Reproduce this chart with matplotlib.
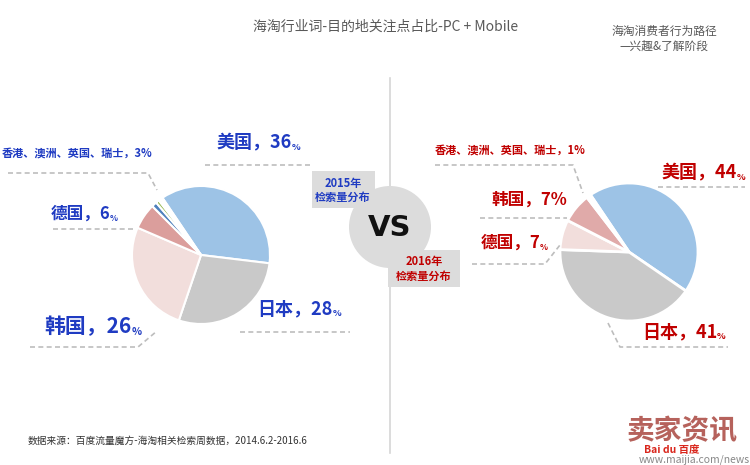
"""Pie comparison of 海淘 destination share, 2015 vs 2016."""

import matplotlib
matplotlib.use('Agg')
import matplotlib.pyplot as plt
from matplotlib.patches import Circle, Rectangle

plt.rcParams['font.family'] = ['Noto Sans CJK SC', 'DejaVu Sans']

W, H = 750, 465

# 2015 share, clockwise from the top
regions_2015 = ['美国', '日本', '韩国', '德国', '香港', '澳洲', '英国', '瑞士']
share_2015 = [36, 28, 26, 6, 1.2, 0.8, 0.5, 0.5]
colors_2015 = ['#9DC3E6', '#C9C9C9', '#F2DEDC', '#DB9E9C',
               '#4F81BD', '#9BBB59', '#F4F1CC', '#FFFFFF']

# 2016 share, clockwise from the top
regions_2016 = ['美国', '日本', '德国', '韩国', '香港、澳洲、英国、瑞士']
share_2016 = [44, 41, 7, 7, 1]
colors_2016 = ['#9DC3E6', '#C9C9C9', '#F2DEDC', '#E0AAA9', '#FFFFFF']

BLUE = '#1F3BC2'
RED = '#C00000'
DASH = '#BDBDBD'


def Y(y):
    """Convert a top-down pixel row to axes data y."""
    return H - y


def pct_label(ax, name, value, x, y, size, color, small_pct=True):
    main = f'{name}，{value:g}'
    if small_pct:
        ax.text(x, Y(y), main, ha='right', va='center', fontsize=size,
                color=color, fontweight='bold')
        ax.text(x, Y(y) - size * 0.35, '%', ha='left', va='center',
                fontsize=size * 0.5, color=color, fontweight='bold')
    else:
        ax.text(x, Y(y), main + '%', ha='right', va='center', fontsize=size,
                color=color, fontweight='bold')


def leader(ax, pts):
    xs = [p[0] for p in pts]
    ys = [Y(p[1]) for p in pts]
    ax.plot(xs, ys, color=DASH, lw=1.2, linestyle=(0, (3, 2)))


fig = plt.figure(figsize=(W / 100, H / 100), dpi=100)
ax = fig.add_axes([0, 0, 1, 1])

# divider and VS badge
ax.plot([390, 390], [Y(78), Y(453)], color='#D6D6D6', lw=1.2, zorder=1)
ax.add_patch(Rectangle((312, Y(208)), 63, 37, facecolor='#DCDCDC', edgecolor='none', zorder=2))
ax.add_patch(Rectangle((388, Y(287)), 72, 37, facecolor='#DCDCDC', edgecolor='none', zorder=2))
ax.add_patch(Circle((390, Y(227)), 41, facecolor='#DCDCDC', edgecolor='none', zorder=2))
ax.text(390, Y(228), 'VS', ha='center', va='center', fontsize=21,
        fontweight='bold', color='#111111', family='DejaVu Sans', zorder=3)
ax.text(343, Y(190), '2015年\n检索量分布', ha='center', va='center', fontsize=8,
        fontweight='bold', color=BLUE, linespacing=1.1, zorder=3)
ax.text(424, Y(269), '2016年\n检索量分布', ha='center', va='center', fontsize=8,
        fontweight='bold', color=RED, linespacing=1.1, zorder=3)

# pies
ax.pie(share_2015, colors=colors_2015, center=(201, Y(255)), radius=69,
       startangle=124, counterclock=False, frame=True,
       wedgeprops=dict(edgecolor='white', linewidth=1.5))
ax.pie(share_2016, colors=colors_2016, center=(629, Y(252)), radius=69,
       startangle=124, counterclock=False, frame=True,
       wedgeprops=dict(edgecolor='white', linewidth=2))

# 2015 labels
pct_label(ax, regions_2015[0], share_2015[0], 292, 143, 13, BLUE)
leader(ax, [(205, 165), (312, 165)])
small_2015 = round(sum(share_2015[4:]))
ax.text(2, Y(153), '、'.join(regions_2015[4:]) + f'，{small_2015}%', ha='left',
        va='center', fontsize=8, color=BLUE, fontweight='bold')
leader(ax, [(8, 173), (148, 173), (157, 190)])
pct_label(ax, regions_2015[3], share_2015[3], 110, 214, 12, BLUE)
leader(ax, [(53, 229), (133, 229)])
pct_label(ax, regions_2015[1], share_2015[1], 333, 309, 13, BLUE)
leader(ax, [(240, 332), (350, 332)])
pct_label(ax, regions_2015[2], share_2015[2], 132, 327, 15, BLUE)
leader(ax, [(30, 347), (138, 347), (157, 331)])

# 2016 labels
ax.text(435, Y(150), regions_2016[4] + f'，{share_2016[4]}%', ha='left',
        va='center', fontsize=8, color=RED, fontweight='bold')
leader(ax, [(435, 165), (573, 165), (583, 193)])
pct_label(ax, regions_2016[0], share_2016[0], 737, 173, 13, RED)
leader(ax, [(658, 187), (745, 187)])
pct_label(ax, regions_2016[3], share_2016[3], 567, 200, 12, RED, small_pct=False)
leader(ax, [(480, 218), (567, 218)])
pct_label(ax, regions_2016[2], share_2016[2], 540, 243, 12, RED)
leader(ax, [(472, 264), (545, 264), (560, 245)])
pct_label(ax, regions_2016[1], share_2016[1], 717, 332, 13, RED)
leader(ax, [(608, 323), (620, 347), (728, 347)])

# titles and source
ax.text(386, Y(27), '海淘行业词-目的地关注点占比-PC + Mobile', ha='center', va='center',
        fontsize=10, color='#595959')
ax.text(664, Y(31), '海淘消费者行为路径', ha='center', va='center', fontsize=8.5, color='#595959')
ax.text(664, Y(46), '—兴趣&了解阶段', ha='center', va='center', fontsize=8.5, color='#595959')
ax.text(28, Y(441), '数据来源：百度流量魔方-海淘相关检索周数据，2014.6.2-2016.6',
        ha='left', va='center', fontsize=7, color='#333333')

# watermark
ax.text(682, Y(431), '卖家资讯', ha='center', va='center', fontsize=20,
        fontweight='bold', color='#A9473F', alpha=0.85)
ax.text(672, Y(450), 'Bai du 百度', ha='center', va='center', fontsize=7.5,
        fontweight='bold', color='#D9261C')
ax.text(750, Y(460), 'www.maijia.com/news', ha='right', va='center', fontsize=7.5,
        color='#888888')

ax.set_xlim(0, W)
ax.set_ylim(0, H)
ax.axis('off')

fig.savefig('out.png', dpi=100)
